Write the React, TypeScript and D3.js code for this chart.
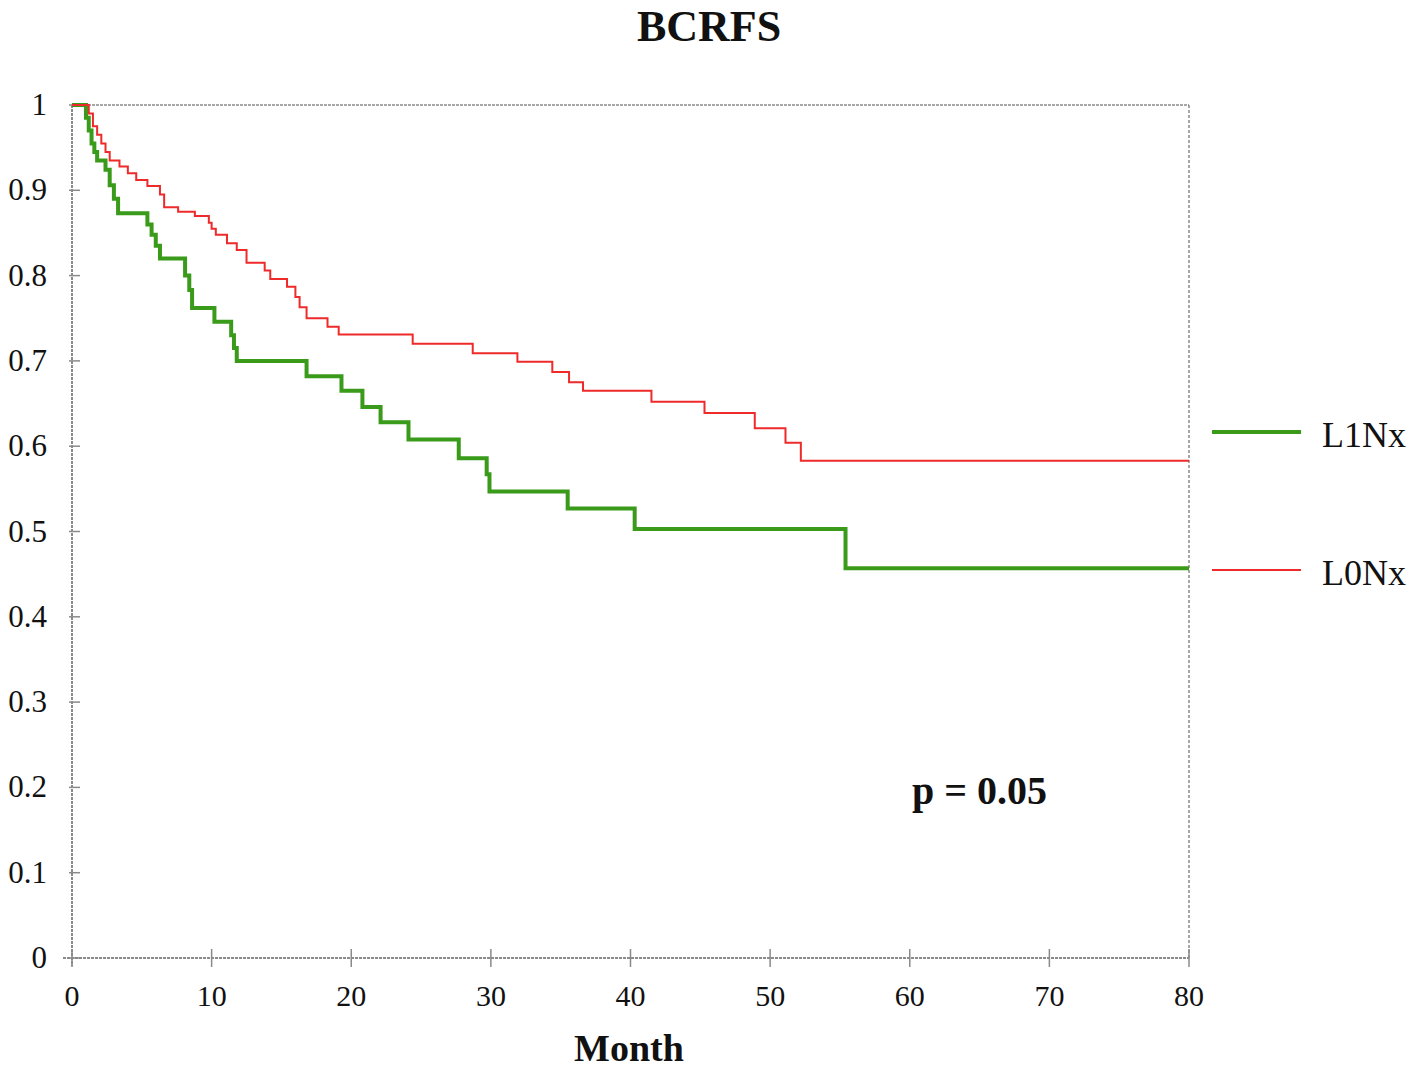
import React, { useEffect, useRef } from "react";
import * as d3 from "d3";

// step times (months) and survival values after each drop
const greenTimes = [0, 1.0, 1.2, 1.4, 1.6, 1.8, 2.4, 2.7, 3.0, 3.3, 5.4, 5.7, 6.0, 6.3, 8.1, 8.4, 8.6, 10.2, 11.4, 11.6, 11.8, 16.8, 19.3, 20.8, 22.1, 24.1, 27.7, 29.7, 29.9, 35.5, 40.3, 55.4, 80];
const greenValues = [1, 0.985, 0.97, 0.955, 0.945, 0.935, 0.924, 0.906, 0.89, 0.873, 0.86, 0.848, 0.835, 0.82, 0.8, 0.783, 0.762, 0.746, 0.73, 0.715, 0.7, 0.682, 0.665, 0.646, 0.628, 0.608, 0.586, 0.567, 0.547, 0.527, 0.503, 0.457, 0.457];

const redTimes = [0, 1.2, 1.5, 1.8, 2.1, 2.4, 2.7, 3.4, 4.0, 4.6, 5.4, 6.3, 6.6, 7.6, 8.8, 9.8, 10.0, 10.3, 11.1, 11.8, 12.5, 13.8, 14.2, 15.4, 16.0, 16.3, 16.8, 18.3, 19.1, 24.4, 28.7, 31.9, 34.4, 35.6, 36.6, 41.5, 45.3, 48.9, 51.1, 52.2, 80];
const redValues = [1, 0.99, 0.975, 0.965, 0.955, 0.945, 0.935, 0.928, 0.92, 0.912, 0.905, 0.895, 0.88, 0.875, 0.87, 0.862, 0.855, 0.848, 0.838, 0.83, 0.815, 0.806, 0.796, 0.787, 0.775, 0.763, 0.75, 0.74, 0.731, 0.72, 0.709, 0.699, 0.687, 0.675, 0.665, 0.652, 0.639, 0.621, 0.604, 0.583, 0.583];

const xTicks = [0, 10, 20, 30, 40, 50, 60, 70, 80];
const yTicks = [0, 0.1, 0.2, 0.3, 0.4, 0.5, 0.6, 0.7, 0.8, 0.9, 1];

const seriesNames = ["L1Nx", "L0Nx"];
const seriesColors = ["#3a9a1a", "#ee2a2a"];

const App: React.FC = () => {
  const svgRef = useRef<SVGSVGElement>(null);

  useEffect(() => {
    if (!svgRef.current) return;
    document.body.style.margin = "0";
    d3.select(svgRef.current).selectAll("*").remove();

    const width = 1414;
    const height = 1069;
    const margin = { top: 105, right: 225, bottom: 111, left: 72 };
    const chartWidth = width - margin.left - margin.right;
    const chartHeight = height - margin.top - margin.bottom;
    const font = "'Liberation Serif', 'Times New Roman', serif";
    const axisColor = "#8a8a8a";

    const svg = d3
      .select(svgRef.current)
      .attr("width", width)
      .attr("height", height)
      .style("background", "#fff");

    const g = svg
      .append("g")
      .attr("transform", `translate(${margin.left},${margin.top})`);

    const x = d3.scaleLinear().domain([0, 80]).range([0, chartWidth]);
    const y = d3.scaleLinear().domain([0, 1]).range([chartHeight, 0]);

    // frame: top and right dotted border
    g.append("line")
      .attr("x1", 0)
      .attr("x2", chartWidth)
      .attr("y1", 0)
      .attr("y2", 0)
      .attr("stroke", axisColor)
      .attr("stroke-width", 1.5)
      .attr("stroke-dasharray", "3,1");
    g.append("line")
      .attr("x1", chartWidth)
      .attr("x2", chartWidth)
      .attr("y1", 0)
      .attr("y2", chartHeight)
      .attr("stroke", axisColor)
      .attr("stroke-width", 1.5)
      .attr("stroke-dasharray", "3,2");

    // left axis
    g.append("line")
      .attr("x1", 0)
      .attr("x2", 0)
      .attr("y1", 0)
      .attr("y2", chartHeight + 8)
      .attr("stroke", axisColor)
      .attr("stroke-width", 2)
      .attr("stroke-dasharray", "3,1");
    // bottom axis
    g.append("line")
      .attr("x1", -9)
      .attr("x2", chartWidth)
      .attr("y1", chartHeight)
      .attr("y2", chartHeight)
      .attr("stroke", axisColor)
      .attr("stroke-width", 2)
      .attr("stroke-dasharray", "3,1");

    g.selectAll(".ytick")
      .data(yTicks)
      .enter()
      .append("line")
      .attr("x1", -3)
      .attr("x2", 8)
      .attr("y1", (d) => y(d))
      .attr("y2", (d) => y(d))
      .attr("stroke", axisColor)
      .attr("stroke-width", 1.5);

    g.selectAll(".ylabel")
      .data(yTicks)
      .enter()
      .append("text")
      .attr("x", -25)
      .attr("y", (d) => y(d) + 10)
      .attr("text-anchor", "end")
      .style("font-family", font)
      .style("font-size", "31px")
      .style("fill", "#111")
      .text((d) => (d === 0 || d === 1 ? `${d}` : d3.format(".1f")(d)));

    g.selectAll(".xtick")
      .data(xTicks)
      .enter()
      .append("line")
      .attr("x1", (d) => x(d))
      .attr("x2", (d) => x(d))
      .attr("y1", chartHeight - 9)
      .attr("y2", chartHeight + 9)
      .attr("stroke", axisColor)
      .attr("stroke-width", 1.5);

    g.selectAll(".xlabel")
      .data(xTicks)
      .enter()
      .append("text")
      .attr("x", (d) => x(d))
      .attr("y", chartHeight + 48)
      .attr("text-anchor", "middle")
      .style("font-family", font)
      .style("font-size", "30px")
      .style("fill", "#111")
      .text((d) => `${d}`);

    const line = d3
      .line<[number, number]>()
      .x((d) => x(d[0]))
      .y((d) => y(d[1]))
      .curve(d3.curveStepAfter);

    const greenData: [number, number][] = greenTimes.map((t, i) => [t, greenValues[i]]);
    const redData: [number, number][] = redTimes.map((t, i) => [t, redValues[i]]);

    g.append("path")
      .datum(greenData)
      .attr("fill", "none")
      .attr("stroke", seriesColors[0])
      .attr("stroke-width", 4)
      .attr("d", line);

    g.append("path")
      .datum(redData)
      .attr("fill", "none")
      .attr("stroke", seriesColors[1])
      .attr("stroke-width", 2)
      .attr("d", line);

    // legend
    const legendY = [432, 570];
    const legendW = [4, 2];
    seriesNames.forEach((name, i) => {
      svg
        .append("line")
        .attr("x1", 1212)
        .attr("x2", 1301)
        .attr("y1", legendY[i])
        .attr("y2", legendY[i])
        .attr("stroke", seriesColors[i])
        .attr("stroke-width", legendW[i]);
      svg
        .append("text")
        .attr("x", 1322)
        .attr("y", legendY[i] + 15)
        .style("font-family", font)
        .style("font-size", "36px")
        .style("fill", "#111")
        .text(name);
    });

    // title
    svg
      .append("text")
      .attr("x", 709)
      .attr("y", 41)
      .attr("text-anchor", "middle")
      .style("font-family", font)
      .style("font-size", "44px")
      .style("font-weight", "bold")
      .style("fill", "#111")
      .text("BCRFS");

    // x axis title
    svg
      .append("text")
      .attr("x", 629)
      .attr("y", 1061)
      .attr("text-anchor", "middle")
      .style("font-family", font)
      .style("font-size", "38px")
      .style("font-weight", "bold")
      .style("fill", "#111")
      .text("Month");

    // p value
    svg
      .append("text")
      .attr("x", 912)
      .attr("y", 804)
      .style("font-family", font)
      .style("font-size", "40px")
      .style("font-weight", "bold")
      .style("fill", "#111")
      .text("p = 0.05");
  }, []);

  return <svg ref={svgRef} />;
};

export default App;
